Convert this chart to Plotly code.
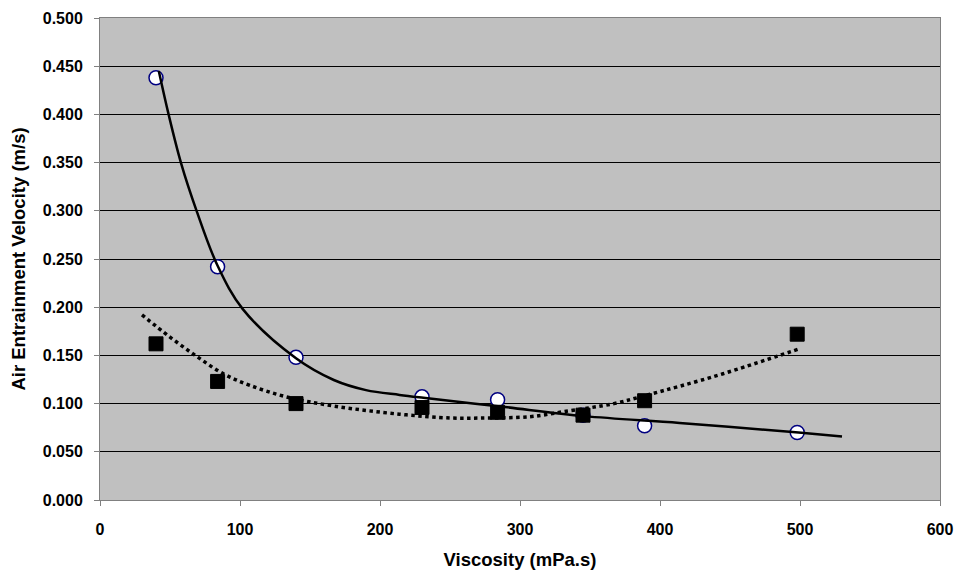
import plotly.graph_objects as go

viscosity = [40, 84, 140, 230, 284, 345, 389, 498]
vel_circles = [0.438, 0.242, 0.148, 0.107, 0.104, 0.088, 0.077, 0.070]
vel_squares = [0.162, 0.123, 0.100, 0.096, 0.091, 0.088, 0.103, 0.172]

# trend lines
trend_solid_x = [42, 49, 58, 69, 84, 102, 140, 167, 190, 214, 231, 286, 346, 414, 499, 530]
trend_solid_y = [0.445, 0.400, 0.349, 0.300, 0.243, 0.198, 0.147, 0.1245, 0.114, 0.109, 0.106, 0.097, 0.087, 0.080, 0.070, 0.066]
trend_dot_x = [30, 50, 69, 88, 107, 133, 167, 214, 251, 271, 307, 331, 367, 391, 414, 445, 500]
trend_dot_y = [0.192, 0.169, 0.149, 0.131, 0.119, 0.107, 0.0975, 0.089, 0.085, 0.085, 0.0864, 0.0916, 0.100, 0.109, 0.118, 0.131, 0.157]

x_ticks = [0, 100, 200, 300, 400, 500, 600]
y_ticks = [0.0, 0.05, 0.1, 0.15, 0.2, 0.25, 0.3, 0.35, 0.4, 0.45, 0.5]

fig = go.Figure()
fig.add_trace(go.Scatter(x=viscosity, y=vel_circles, mode="markers",
                         marker=dict(symbol="circle", size=14, color="white",
                                     line=dict(color="#000080", width=1.5)),
                         showlegend=False))
fig.add_trace(go.Scatter(x=viscosity, y=vel_squares, mode="markers",
                         marker=dict(symbol="square", size=14, color="black",
                                     line=dict(color="black", width=1)),
                         showlegend=False))
fig.add_trace(go.Scatter(x=trend_solid_x, y=trend_solid_y, mode="lines",
                         line=dict(color="black", width=2.5, shape="spline"),
                         showlegend=False))
fig.add_trace(go.Scatter(x=trend_dot_x, y=trend_dot_y, mode="lines",
                         line=dict(color="black", width=3.5, shape="spline", dash="dot"),
                         showlegend=False))

font_family = "Liberation Sans, Arial, sans-serif"
tick_font = dict(family=font_family, size=16, color="black", weight="bold")
title_font = dict(family=font_family, size=18.5, color="black", weight="bold")
fig.update_layout(
    width=947, height=562,
    margin=dict(l=92, r=15, t=10, b=70),
    paper_bgcolor="white",
    plot_bgcolor="#C0C0C0",
    font=dict(family=font_family, size=16, color="black"),
    xaxis=dict(range=[0, 600], tickvals=x_ticks, ticktext=[f"<b>{v}</b>" for v in x_ticks],
               showgrid=False, zeroline=False, ticks="outside", ticklen=5,
               tickcolor="#808080", showline=True, linecolor="#808080", linewidth=1,
               mirror=True, ticklabelstandoff=10, automargin=False,
               tickfont=tick_font,
               title=dict(text="<b>Viscosity (mPa.s)</b>", standoff=18, font=title_font)),
    yaxis=dict(range=[0, 0.5], tickvals=y_ticks, ticktext=[f"<b>{v:.3f}</b>" for v in y_ticks],
               showgrid=True, gridcolor="black", gridwidth=1, zeroline=False,
               ticks="outside", ticklen=5, tickcolor="#808080",
               showline=True, linecolor="#808080", linewidth=1, mirror=True,
               ticklabelstandoff=8, automargin=False,
               tickfont=tick_font,
               title=dict(text="<b>Air Entrainment Velocity (m/s)</b>", standoff=12,
                          font=title_font)),
)

fig.write_html("out.html")
